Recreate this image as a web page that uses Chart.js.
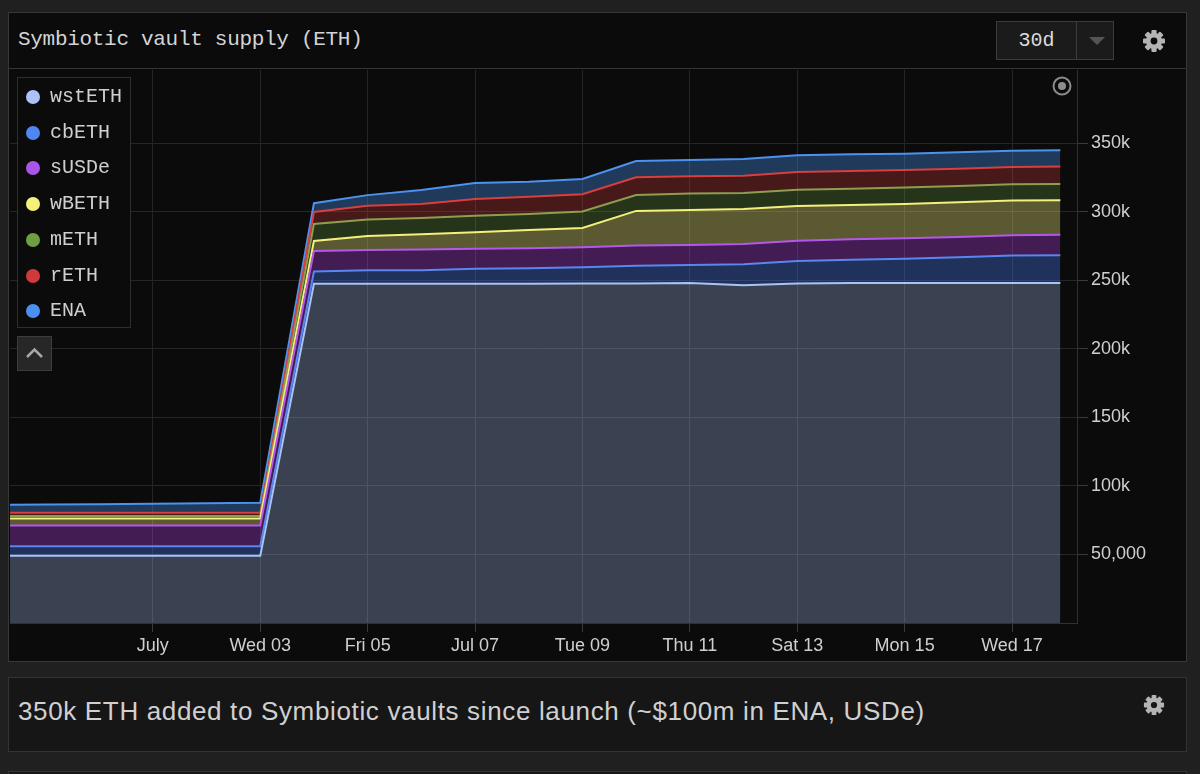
<!DOCTYPE html>
<html>
<head>
<meta charset="utf-8">
<script src="https://cdn.jsdelivr.net/npm/chart.js@4.4.1/dist/chart.umd.min.js"></script>
<style>
  body { margin: 0; width: 1200px; height: 774px; overflow: hidden; background: #202020; font-family: "Liberation Sans", Arial, sans-serif; }
  .abs { position: absolute; }
  #panel { left: 8px; top: 12px; width: 1179px; height: 650px; background: #0b0b0b; border: 1px solid #383838; box-sizing: border-box; }
  #headLine { left: 8px; top: 68px; width: 1179px; height: 1px; background: #353535; }
  #title { left: 18px; top: 27px; font: 21px "Liberation Mono", monospace; letter-spacing: -0.3px; color: #d4d4d4; line-height: 26px; white-space: pre; }
  #range { left: 996px; top: 21px; width: 118px; height: 39px; background: #1b1b1b; border: 1px solid #3c3c3c; box-sizing: border-box; }
  #range .txt { left: 0; top: 0; width: 79px; height: 37px; font: 20px "Liberation Mono", monospace; line-height: 37px; text-align: center; color: #dcdcdc; }
  #range .sep { left: 79px; top: 0; width: 1px; height: 37px; background: #3c3c3c; }
  #range .caret { left: 92px; top: 15px; width: 0; height: 0; border-left: 8px solid transparent; border-right: 8px solid transparent; border-top: 8px solid #555; }
  #wrap { left: 10px; top: 70px; width: 1177px; height: 592px; }
  #legend { left: 17px; top: 77px; width: 114px; height: 251px; border: 1px solid #2e2e2e; background: #0b0b0b; box-sizing: border-box; }
  .item { position: absolute; left: 0; height: 24px; font: 20px "Liberation Mono", monospace; line-height: 24px; color: #cfcfcf; white-space: pre; }
  .dot { position: absolute; left: 8px; top: 5px; width: 14px; height: 14px; border-radius: 50%; }
  .item span.lbl { position: absolute; left: 32px; top: 0; }
  #collapse { left: 17px; top: 336px; width: 35px; height: 35px; background: #272727; border: 1px solid #3c3c3c; box-sizing: border-box; }
  #caption { left: 8px; top: 677px; width: 1179px; height: 75px; background: #161616; border: 1px solid #333; box-sizing: border-box; }
  #capText { left: 18px; top: 696px; font-size: 26px; letter-spacing: 0.65px; line-height: 30px; color: #d0d0d0; white-space: pre; }
  #nextPanel { left: 8px; top: 771px; width: 1179px; height: 10px; background: #161616; border: 1px solid #333; box-sizing: border-box; }
</style>
</head>
<body>
<div id="panel" class="abs"></div>
<div id="headLine" class="abs"></div>
<div id="title" class="abs">Symbiotic vault supply (ETH)</div>
<div id="range" class="abs"><div class="abs txt">30d</div><div class="abs sep"></div><div class="abs caret"></div></div>
<svg class="abs gear" style="left:1142px;top:29px" width="24" height="24" viewBox="-12 -12 24 24"></svg>
<div id="wrap" class="abs"><canvas id="chart" width="1177" height="592"></canvas></div>
<div id="legend" class="abs"></div>
<div id="collapse" class="abs">
  <svg width="33" height="33" viewBox="0 0 33 33"><polyline points="9,20 16.5,12.5 24,20" fill="none" stroke="#a8a8a8" stroke-width="2.5"/></svg>
</div>
<svg class="abs" style="left:1051px;top:75px" width="22" height="22" viewBox="0 0 22 22">
  <circle cx="11" cy="11" r="8.5" fill="none" stroke="#8c8c8c" stroke-width="2"/>
  <circle cx="11" cy="11" r="4" fill="#8c8c8c"/>
</svg>
<div id="caption" class="abs"></div>
<div id="capText" class="abs">350k ETH added to Symbiotic vaults since launch (~$100m in ENA, USDe)</div>
<svg class="abs gear" style="left:1143px;top:694px" width="22" height="22" viewBox="-12 -12 24 24"></svg>
<div id="nextPanel" class="abs"></div>

<script>
// days after Jul 1 (00:00), one point per day + the last partial day
const dayOffsets = [-3, -2, -1, 0, 1, 2, 3, 4, 5, 6, 7, 8, 9, 10, 11, 12, 13, 14, 15, 16, 16.9];

// supply per vault, thousands of ETH (stacked bottom to top)
const seriesNames = ["wstETH", "cbETH", "sUSDe", "wBETH", "mETH", "rETH", "ENA"];

const wstETH = [49.0, 49.0, 49.0, 49.0, 49.0, 49.0, 247.5, 247.5, 247.5, 247.5, 247.5, 247.7, 247.8, 248.0, 246.5, 247.7, 248.0, 248.0, 248.0, 248.0, 248.0];
const cbETH = [7.0, 7.0, 7.0, 7.0, 7.0, 7.0, 8.9, 9.8, 9.8, 10.9, 11.4, 11.9, 12.8, 13.3, 15.3, 16.5, 17.0, 17.7, 18.9, 20.1, 20.4];
const sUSDe = [15.1, 15.1, 15.1, 15.1, 15.1, 15.1, 15.1, 14.8, 15.2, 14.7, 14.6, 14.6, 14.8, 14.6, 14.8, 14.8, 15.0, 15.1, 14.8, 14.9, 14.8];
const wBETH = [5.1, 5.1, 5.1, 5.1, 5.1, 5.1, 7.3, 10.3, 11.2, 12.1, 13.3, 14.1, 25.3, 25.5, 25.5, 25.3, 25.0, 25.0, 25.3, 25.2, 25.3];
const mETH = [1.8, 1.8, 1.8, 1.8, 1.8, 1.8, 12.4, 12.1, 11.9, 11.9, 11.7, 11.9, 11.6, 11.9, 11.7, 11.9, 11.9, 11.9, 11.9, 11.9, 11.9];
const rETH = [2.5, 2.5, 2.5, 2.5, 2.5, 2.5, 8.7, 9.9, 10.2, 12.2, 12.6, 12.6, 12.9, 12.7, 12.6, 12.9, 12.9, 12.9, 12.6, 12.6, 12.6];
const ENA = [5.8, 5.9, 6.2, 6.6, 6.9, 7.3, 6.4, 7.8, 10.2, 11.7, 10.9, 11.2, 11.9, 11.8, 12.2, 12.2, 12.2, 11.8, 12.0, 11.9, 11.9];

const seriesValues = [wstETH, cbETH, sUSDe, wBETH, mETH, rETH, ENA];

const lineColors = ["#a9c3f6", "#5a86f0", "#b458ea", "#f3f07c", "#8f9d50", "#d64040", "#4d92ee"];
const fillColors = ["rgba(168,194,245,0.30)", "rgba(70,118,232,0.36)", "rgba(172,62,222,0.34)", "rgba(240,235,120,0.35)", "rgba(110,160,70,0.28)", "rgba(216,60,60,0.30)", "rgba(70,140,236,0.36)"];
const legendColors = ["#abc2f7", "#4f86f0", "#a955e8", "#f5f07a", "#6f9f42", "#cf3b3b", "#4b90ef"];

// x ticks
const tickDays = [0, 2, 4, 6, 8, 10, 12, 14, 16];
const tickLabels = ["July", "Wed 03", "Fri 05", "Jul 07", "Tue 09", "Thu 11", "Sat 13", "Mon 15", "Wed 17"];

// y ticks (thousands)
const yTicks = [50, 100, 150, 200, 250, 300, 350];
const yTickLabels = ["50,000", "100k", "150k", "200k", "250k", "300k", "350k"];

const X_MIN = -2.66, X_MAX = 17.21;
const Y_MAX = 403.5;

// gears
document.querySelectorAll("svg.gear").forEach(svg => {
  let s = "";
  for (let i = 0; i < 8; i++) {
    s += `<rect x="-2.6" y="-11" width="5.2" height="6" rx="1" fill="#b4b4b4" transform="rotate(${i * 45})"/>`;
  }
  s += `<circle r="8" fill="#b4b4b4"/><circle r="3.4" fill="${svg.style.top === '29px' ? '#0b0b0b' : '#161616'}"/>`;
  svg.innerHTML = s;
});

const datasets = seriesNames.map((name, i) => ({
  label: name,
  data: dayOffsets.map((d, j) => ({ x: d, y: seriesValues[i][j] })),
  borderColor: lineColors[i],
  backgroundColor: fillColors[i],
  fill: i === 0 ? "origin" : "-1",
  borderWidth: 2,
  pointRadius: 0,
  tension: 0
}));

// legend
const legend = document.getElementById("legend");
seriesNames.forEach((name, i) => {
  const item = document.createElement("div");
  item.className = "item";
  item.style.top = (7 + i * 35.7) + "px";
  item.innerHTML = `<div class="dot" style="background:${legendColors[i]}"></div><span class="lbl">${name}</span>`;
  legend.appendChild(item);
});

const tickFont = { family: "'Liberation Sans', Arial, sans-serif", size: 18 };

new Chart(document.getElementById("chart"), {
  type: "line",
  data: { datasets: datasets },
  options: {
    responsive: false,
    animation: false,
    layout: { padding: 0 },
    plugins: { legend: { display: false }, tooltip: { enabled: false } },
    scales: {
      x: {
        type: "linear",
        min: X_MIN,
        max: X_MAX,
        afterBuildTicks: (ax) => { ax.ticks = tickDays.map(v => ({ value: v })); },
        afterFit: (ax) => { ax.height = 39; ax.paddingLeft = 0; ax.paddingRight = 0; },
        ticks: {
          callback: (v) => tickLabels[tickDays.indexOf(v)],
          color: "#cfcfcf",
          font: tickFont,
          padding: 3,
          maxRotation: 0,
          autoSkip: false
        },
        grid: { color: "#262626", tickColor: "#3a3a3a", tickLength: 9 },
        border: { color: "#303030" }
      },
      y: {
        position: "right",
        stacked: true,
        min: 0,
        max: Y_MAX,
        afterBuildTicks: (ax) => { ax.ticks = yTicks.map(v => ({ value: v })); },
        afterFit: (ax) => { ax.width = 110; ax.paddingTop = 0; ax.paddingBottom = 0; },
        ticks: {
          callback: (v) => yTickLabels[yTicks.indexOf(v)],
          color: "#cfcfcf",
          font: tickFont,
          padding: 3
        },
        grid: { color: "#262626", tickColor: "#3a3a3a", tickLength: 11 },
        border: { color: "#303030" }
      }
    }
  }
});
</script>
</body>
</html>
